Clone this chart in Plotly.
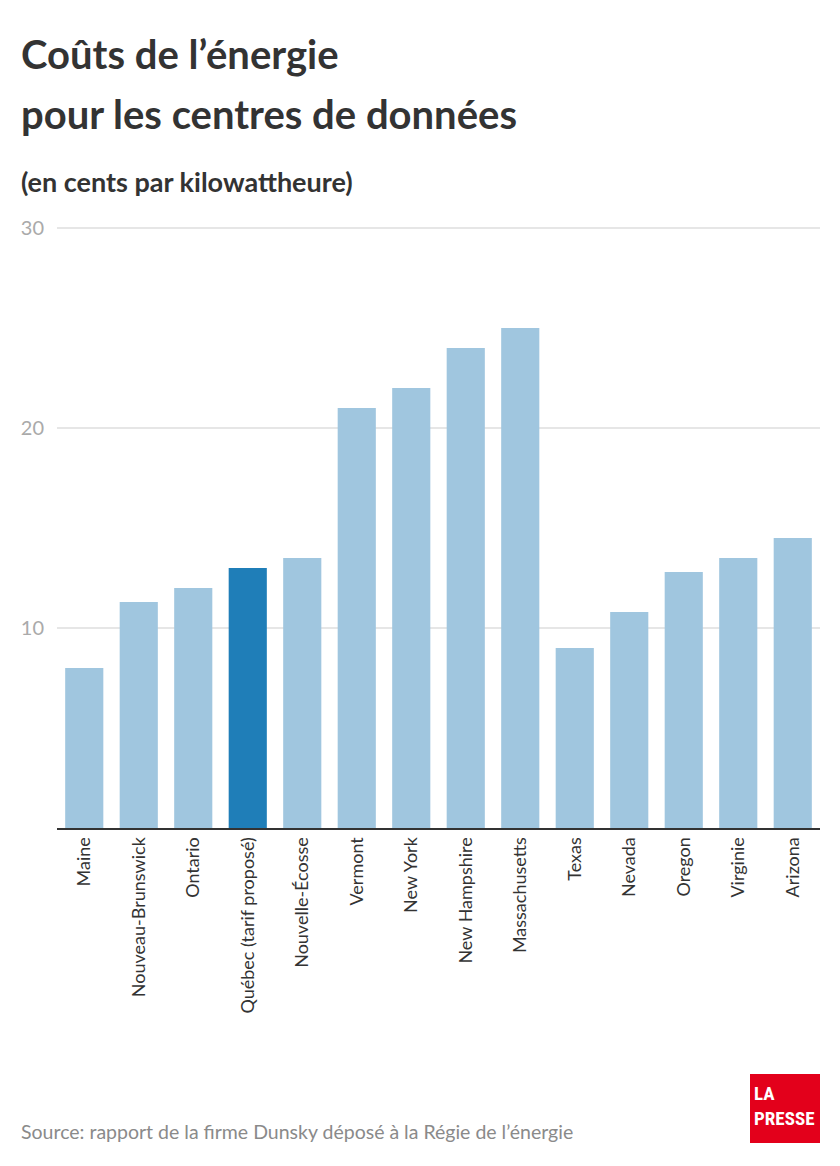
import plotly.graph_objects as go

categories = ["Maine", "Nouveau-Brunswick", "Ontario", "Québec (tarif proposé)",
              "Nouvelle-Écosse", "Vermont", "New York", "New Hampshire",
              "Massachusetts", "Texas", "Nevada", "Oregon", "Virginie", "Arizona"]
values = [8.0, 11.3, 12.0, 13.0, 13.5, 21.0, 22.0, 24.0, 25.0, 9.0, 10.8, 12.8, 13.5, 14.5]
highlight = "Québec (tarif proposé)"
y_ticks = [10, 20, 30]

OFF = 8  # page body offset
W, H = 840 - OFF, 1166 - OFF
L = 57 - OFF
R = 20
T = 226 - OFF
B = 1166 - 828
FONT = "Lato"

colors = ["#1f7eb8" if c == highlight else "#a0c6df" for c in categories]

fig = go.Figure(go.Bar(x=categories, y=values, marker_color=colors,
                       marker_line_width=0, hoverinfo="skip"))

plot_h = H - T - B
plot_w = W - L - R

def py(pix):
    return ((H - B) - (pix - OFF)) / plot_h

def px(pix):
    return ((pix - OFF) - L) / plot_w

ann = []
ann.append(dict(text="<b>Coûts de l’énergie</b>", x=px(19), y=py(54), xref="paper", yref="paper",
                xanchor="left", yanchor="middle", showarrow=False,
                font=dict(family=FONT, size=40, color="#333333")))
ann.append(dict(text="<b>pour les centres de données</b>", x=px(19), y=py(114), xref="paper", yref="paper",
                xanchor="left", yanchor="middle", showarrow=False,
                font=dict(family=FONT, size=40, color="#333333")))
ann.append(dict(text="<b>(en cents par kilowattheure)</b>", x=px(19), y=py(182), xref="paper", yref="paper",
                xanchor="left", yanchor="middle", showarrow=False,
                font=dict(family=FONT, size=27, color="#333333")))
ann.append(dict(text="Source: rapport de la firme Dunsky déposé à la Régie de l’énergie",
                x=px(19), y=py(1131), xref="paper", yref="paper",
                xanchor="left", yanchor="middle", showarrow=False,
                font=dict(family=FONT, size=19.5, color="#8a8a8a")))
ann.append(dict(text="<b>LA<br>PRESSE</b>", x=px(752), y=py(1106), xref="paper", yref="paper",
                xanchor="left", yanchor="middle", showarrow=False, align="left",
                font=dict(family="Roboto Condensed, Roboto, " + FONT, size=19, color="white")))

shapes = [dict(type="rect", xref="paper", yref="paper",
               x0=px(750), x1=px(820), y0=py(1143), y1=py(1074),
               fillcolor="#e3001b", line_width=0, layer="below")]

fig.update_layout(
    width=W, height=H,
    margin=dict(l=L, r=R, t=T, b=B),
    paper_bgcolor="white", plot_bgcolor="white",
    bargap=0.3,
    showlegend=False,
    annotations=ann, shapes=shapes,
    xaxis=dict(tickangle=-90, tickfont=dict(family=FONT, size=18, color="#333333"),
               showline=True, linecolor="#333333", linewidth=2, ticks="",
               showgrid=False, fixedrange=True),
    yaxis=dict(range=[0, 30.1], tickvals=y_ticks, ticktext=[str(v) for v in y_ticks],
               tickfont=dict(family=FONT, size=20, color="#aaaaaa"),
               showgrid=True, gridcolor="#e6e6e6", gridwidth=1.5,
               zeroline=False, showline=False, ticks="", ticklabelstandoff=12),
)

fig.write_html("out.html", config={"displayModeBar": False})
